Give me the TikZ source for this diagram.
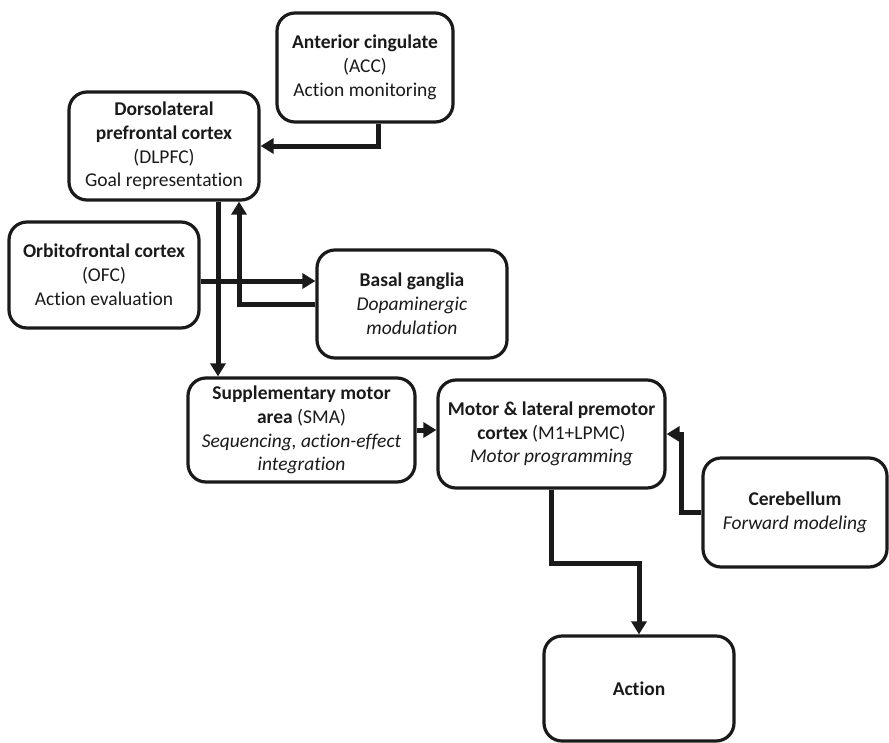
\documentclass[tikz,border=0pt]{standalone}
\usepackage{fontspec}
\setmainfont[Ligatures={NoCommon}]{Carlito}
\usetikzlibrary{arrows.meta,calc}
\definecolor{ink}{HTML}{1A1A1A}
\tikzset{
  box/.style={draw=ink, line width=3.2pt, rounded corners=18pt, align=center,
    text=ink, font=\fontsize{19.5}{23.8}\selectfont, inner sep=0pt},
  conn/.style={draw=ink, line width=5pt, -{Triangle[length=13pt,width=15pt]}},
}
\begin{document}
\begin{tikzpicture}[x=1pt,y=-1pt]
\useasboundingbox (0,0) rectangle (889,742);
\node[box, minimum width=176pt, minimum height=109pt] (acc) at (365,67.5)
  {\textbf{Anterior cingulate}\\(ACC)\\Action monitoring};
\node[box, minimum width=190pt, minimum height=108pt] (dlpfc) at (164,146)
  {\textbf{Dorsolateral}\\\textbf{prefrontal cortex}\\(DLPFC)\\Goal representation};
\node[box, minimum width=190pt, minimum height=106pt] (ofc) at (104,275)
  {\textbf{Orbitofrontal cortex}\\(OFC)\\Action evaluation};
\node[box, minimum width=190pt, minimum height=108pt] (bg) at (412,304)
  {\textbf{Basal ganglia}\\\textit{Dopaminergic}\\\textit{modulation}};
\node[box, minimum width=227pt, minimum height=104pt] (sma) at (301.5,430)
  {\textbf{Supplementary motor}\\\textbf{area} (SMA)\\\textit{Sequencing, action-effect}\\\textit{integration}};
\node[box, minimum width=227pt, minimum height=108pt] (m1) at (551.5,434)
  {\textbf{Motor \& lateral premotor}\\\textbf{cortex} (M1+LPMC)\\\textit{Motor programming}};
\node[box, minimum width=184pt, minimum height=109pt] (cer) at (795,512.5)
  {\textbf{Cerebellum}\\\textit{Forward modeling}};
\node[box, minimum width=190pt, minimum height=105pt] (act) at (639,688.5)
  {\textbf{Action}};
% connectors
\coordinate (a1) at ($(acc.south)+(13,0)$);
\draw[conn] (a1) |- (dlpfc.east);
\coordinate (d1) at ($(dlpfc.south)+(54,0)$);
\draw[conn] (d1) -- (d1 |- sma.north);
\coordinate (o1) at ($(ofc.east)+(0,6)$);
\draw[conn] (o1) -- (o1 -| bg.west);
\coordinate (d2) at ($(dlpfc.south)+(75,0)$);
\draw[conn] (bg.west) -| (d2);
\draw[conn] (sma.east) -- (sma.east -| m1.west);
\draw[conn] (cer.west) -- ++(-20,0) |- (m1.east);
\draw[conn] (m1.south) -- ++(0,74) -| (act.north);
\end{tikzpicture}
\end{document}
